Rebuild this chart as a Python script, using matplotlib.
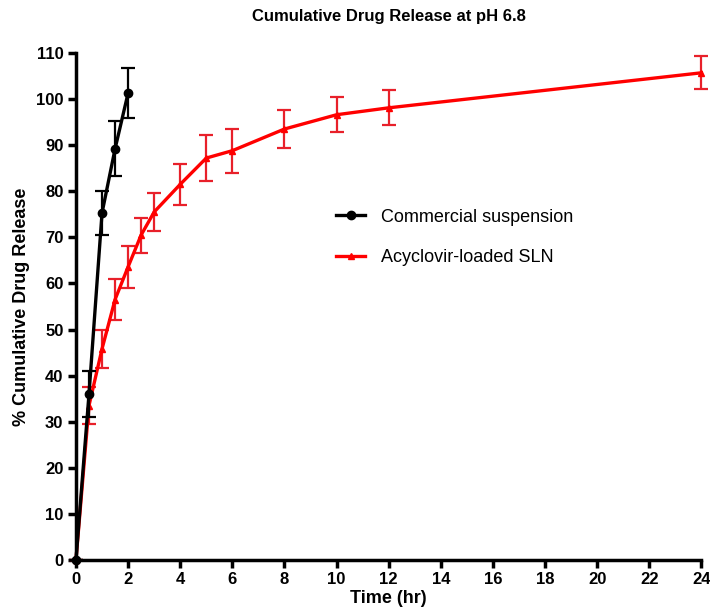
import matplotlib
matplotlib.use("Agg")
import matplotlib.pyplot as plt
from matplotlib.lines import Line2D

plt.rcParams["font.family"] = ["Liberation Sans", "DejaVu Sans"]

# commercial suspension
t_comm = [0, 0.5, 1, 1.5, 2]
rel_comm = [0, 36, 75.3, 89.2, 101.3]
err_comm = [0, 5, 4.7, 6, 5.4]

# acyclovir-loaded SLN
t_sln = [0, 0.5, 1, 1.5, 2, 2.5, 3, 4, 5, 6, 8, 10, 12, 24]
rel_sln = [0, 33.5, 45.8, 56.5, 63.6, 70.5, 75.5, 81.5, 87.2, 88.8, 93.5, 96.6, 98.1, 105.7]
err_sln = [0, 4, 4.2, 4.5, 4.5, 3.8, 4.2, 4.5, 5, 4.8, 4.2, 3.8, 3.8, 3.6]

xticks = list(range(0, 25, 2))
yticks = list(range(0, 111, 10))

fig = plt.figure(figsize=(7.1, 6.16), dpi=100)
ax = fig.add_axes([0.107, 0.091, 0.881, 0.823])

ax.errorbar(t_comm, rel_comm, yerr=err_comm, color="black", marker="o", ms=6,
            lw=2.4, capsize=5, elinewidth=1.6, capthick=1.6,
            clip_on=False, zorder=3)
ax.errorbar(t_sln, rel_sln, yerr=err_sln, color="#ff0000", ecolor="#e8202a",
            marker="^", ms=5, lw=2.4, capsize=5, elinewidth=1.6, capthick=1.6,
            clip_on=False, zorder=2)

ax.set_xlim(0, 24)
ax.set_ylim(0, 110)
ax.set_xticks(xticks)
ax.set_yticks(yticks)
for s in ["top", "right"]:
    ax.spines[s].set_visible(False)
for s in ["left", "bottom"]:
    ax.spines[s].set_linewidth(2.5)
ax.tick_params(width=2.5, length=6, labelsize=12, direction="out", pad=3)
for lab in ax.get_xticklabels() + ax.get_yticklabels():
    lab.set_fontweight("bold")

ax.set_xlabel("Time (hr)", fontsize=13, fontweight="bold", labelpad=2)
ax.set_ylabel("% Cumulative Drug Release", fontsize=13, fontweight="bold", labelpad=4)
ax.set_title("Cumulative Drug Release at pH 6.8", fontsize=12, fontweight="bold", pad=23)

handles = [
    Line2D([], [], color="black", marker="o", ms=6, lw=2.4),
    Line2D([], [], color="#ff0000", marker="^", ms=5, lw=2.4),
]
labels = ["Commercial suspension", "Acyclovir-loaded SLN"]
ax.legend(handles, labels, loc="upper left", bbox_to_anchor=(0.39, 0.725), frameon=False,
          fontsize=13, handlelength=1.6, handletextpad=0.9, labelspacing=1.3)

fig.savefig("out.png", dpi=100)
